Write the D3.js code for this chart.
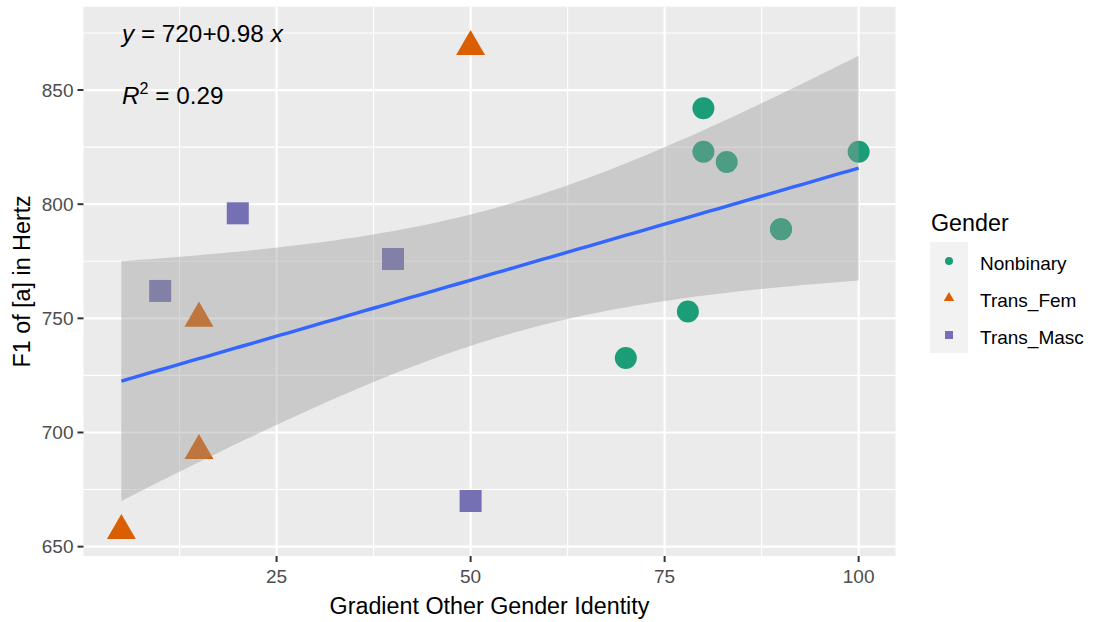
<!DOCTYPE html>
<html><head><meta charset="utf-8">
<script src="https://cdn.jsdelivr.net/npm/d3@7"></script>
<style>body{margin:0;background:#fff} text{font-family:"Liberation Sans",Arial,sans-serif}</style>
</head><body><svg id="c" width="1097" height="622"></svg>
<script>
// ---- data ----
const genderLevels = ["Nonbinary", "Trans_Fem", "Trans_Masc"];
const genderColors = ["#1B9E77", "#D95F02", "#7570B3"];
// note: two Nonbinary observations coincide at (90, 789)
const gradientOther = [80, 80, 83, 100, 90, 90, 78, 70, 50, 15, 15, 5, 20, 10, 40, 50];
const f1Hertz = [842, 823, 818.5, 823, 789, 789, 753, 732.6, 869, 750, 692, 657, 796, 762, 776, 670];
const genderOf = ["Nonbinary","Nonbinary","Nonbinary","Nonbinary","Nonbinary","Nonbinary","Nonbinary","Nonbinary",
  "Trans_Fem","Trans_Fem","Trans_Fem","Trans_Fem",
  "Trans_Masc","Trans_Masc","Trans_Masc","Trans_Masc"];
const xTicks = [25, 50, 75, 100];
const xMinor = [12.5, 37.5, 62.5, 87.5];
const yTicks = [650, 700, 750, 800, 850];
const yMinor = [675, 725, 775, 825, 875];
const yLimits = [645.9, 886.5];
const eqLabel = "720+0.98";
const r2Label = "0.29";

// ---- layout ----
const svg = d3.select("#c");
const P = {l: 83.5, r: 895.5, t: 6.7, b: 556};
const xExt = d3.extent(gradientOther);
const xPad = (xExt[1] - xExt[0]) * 0.05;
const x = d3.scaleLinear().domain([xExt[0] - xPad, xExt[1] + xPad]).range([P.l + 1, P.r]);
const y = d3.scaleLinear().domain(yLimits).range([P.b, P.t]);
const color = d3.scaleOrdinal().domain(genderLevels).range(genderColors);
const shapeOf = {Nonbinary: "circle", Trans_Fem: "triangle", Trans_Masc: "square"};

function shapePath(shape, s) {
  if (shape === "circle") { const r = s / 2; return `M${-r},0A${r},${r} 0 1,0 ${r},0A${r},${r} 0 1,0 ${-r},0Z`; }
  if (shape === "square") { const h = s / 2; return `M${-h},${-h}H${h}V${h}H${-h}Z`; }
  const r = s * 0.76, w = r * Math.sqrt(3) / 2;
  return `M0,${-r}L${w},${r / 2}L${-w},${r / 2}Z`;
}

// panel
svg.append("rect").attr("x", P.l).attr("y", P.t).attr("width", P.r - P.l).attr("height", P.b - P.t).attr("fill", "#EBEBEB");
const grid = svg.append("g");
xMinor.forEach(v => grid.append("line").attr("x1", x(v)).attr("x2", x(v)).attr("y1", P.t).attr("y2", P.b).attr("stroke", "#fff").attr("stroke-width", 1.1));
yMinor.forEach(v => grid.append("line").attr("y1", y(v)).attr("y2", y(v)).attr("x1", P.l).attr("x2", P.r).attr("stroke", "#fff").attr("stroke-width", 1.1));
xTicks.forEach(v => grid.append("line").attr("x1", x(v)).attr("x2", x(v)).attr("y1", P.t).attr("y2", P.b).attr("stroke", "#fff").attr("stroke-width", 2.2));
yTicks.forEach(v => grid.append("line").attr("y1", y(v)).attr("y2", y(v)).attr("x1", P.l).attr("x2", P.r).attr("stroke", "#fff").attr("stroke-width", 2.2));

// points
const pts = gradientOther.map((g, i) => ({x: g, y: f1Hertz[i], k: genderOf[i]}));
svg.append("g").selectAll("path").data(pts).join("path")
  .attr("transform", d => `translate(${x(d.x)},${y(d.y)})`)
  .attr("d", d => shapePath(shapeOf[d.k], 22))
  .attr("fill", d => color(d.k));

// linear fit with 95% CI
const n = pts.length;
const mx = d3.mean(pts, d => d.x), my = d3.mean(pts, d => d.y);
const sxx = d3.sum(pts, d => (d.x - mx) ** 2);
const sxy = d3.sum(pts, d => (d.x - mx) * (d.y - my));
const b1 = sxy / sxx, b0 = my - b1 * mx;
const sse = d3.sum(pts, d => (d.y - b0 - b1 * d.x) ** 2);
const s = Math.sqrt(sse / (n - 2));
const tq = 2.144787; // t(0.975, 14)
const fit = d3.range(80).map(i => {
  const xv = xExt[0] + (xExt[1] - xExt[0]) * i / 79;
  const yv = b0 + b1 * xv;
  const se = s * Math.sqrt(1 / n + (xv - mx) ** 2 / sxx);
  return {x: xv, y: yv, lo: yv - tq * se, hi: yv + tq * se};
});
svg.append("path").datum(fit)
  .attr("d", d3.area().x(d => x(d.x)).y0(d => y(d.lo)).y1(d => y(d.hi)))
  .attr("fill", "#999999").attr("fill-opacity", 0.4);
svg.append("path").datum(fit)
  .attr("d", d3.line().x(d => x(d.x)).y(d => y(d.y)))
  .attr("fill", "none").attr("stroke", "#3366FF").attr("stroke-width", 3.4);

// equation labels
const eq = svg.append("text").attr("x", 122).attr("y", 42).attr("font-size", 24.3).attr("fill", "#000");
eq.append("tspan").attr("font-style", "italic").text("y");
eq.append("tspan").text(" = " + eqLabel + " ");
eq.append("tspan").attr("font-style", "italic").text("x");
const r2 = svg.append("text").attr("x", 122).attr("y", 103.5).attr("font-size", 24.3).attr("fill", "#000");
r2.append("tspan").attr("font-style", "italic").text("R");
r2.append("tspan").attr("font-size", 16).attr("dy", -10).text("2");
r2.append("tspan").attr("dy", 10).text(" = " + r2Label);

// axes
const ax = svg.append("g");
xTicks.forEach(v => {
  ax.append("line").attr("x1", x(v)).attr("x2", x(v)).attr("y1", P.b).attr("y2", P.b + 6).attr("stroke", "#333").attr("stroke-width", 2);
  ax.append("text").attr("x", x(v)).attr("y", P.b + 27).attr("text-anchor", "middle").attr("font-size", 19).attr("fill", "#4D4D4D").text(v);
});
yTicks.forEach(v => {
  ax.append("line").attr("x1", P.l - 6).attr("x2", P.l).attr("y1", y(v)).attr("y2", y(v)).attr("stroke", "#333").attr("stroke-width", 2);
  ax.append("text").attr("x", P.l - 10).attr("y", y(v)).attr("dy", "0.36em").attr("text-anchor", "end").attr("font-size", 19).attr("fill", "#4D4D4D").text(v);
});
svg.append("text").attr("x", (P.l + P.r) / 2).attr("y", 614).attr("text-anchor", "middle").attr("font-size", 23.3).attr("fill", "#000").text("Gradient Other Gender Identity");
svg.append("text").attr("transform", `translate(30,${(P.t + P.b) / 2}) rotate(-90)`).attr("text-anchor", "middle").attr("font-size", 23.3).attr("fill", "#000").text("F1 of [a] in Hertz");

// legend
const lg = svg.append("g");
lg.append("text").attr("x", 931).attr("y", 230.5).attr("font-size", 23.3).attr("fill", "#000").text("Gender");
genderLevels.forEach((k, i) => {
  const cy = 242 + 37 * i;
  lg.append("rect").attr("x", 930).attr("y", cy).attr("width", 38).attr("height", 37).attr("fill", "#F2F2F2");
  lg.append("path").attr("transform", `translate(949,${cy + 19})`).attr("d", shapePath(shapeOf[k], 8)).attr("fill", color(k));
  lg.append("text").attr("x", 980).attr("y", cy + 21).attr("dy", "0.36em").attr("font-size", 19).attr("fill", "#000").text(k);
});
</script></body></html>
